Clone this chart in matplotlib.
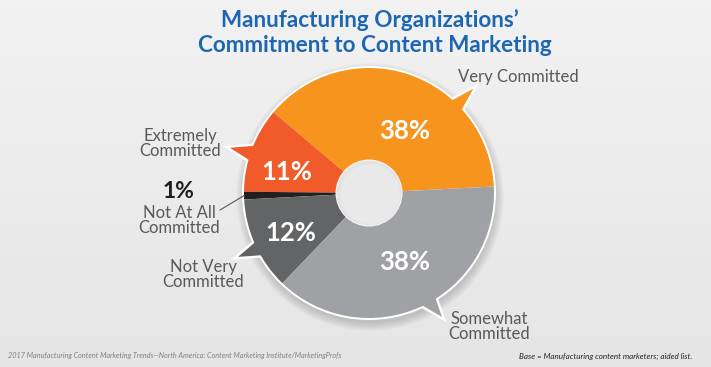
import numpy as np
import matplotlib
matplotlib.use("Agg")
import matplotlib.pyplot as plt
from matplotlib.patches import Circle, Polygon
from matplotlib.colors import LinearSegmentedColormap

# ---------------- data ----------------
categories = ["Very Committed", "Extremely\nCommitted", "Not At All\nCommitted",
              "Not Very\nCommitted", "Somewhat\nCommitted"]
values = [38, 11, 1, 12, 38]
pct_labels = ["38%", "11%", "1%", "12%", "38%"]
colors = ["#F7941D", "#F15A29", "#231F20", "#636466", "#A0A1A4"]

title_lines = ["Manufacturing Organizations\u2019", "Commitment to Content Marketing"]
source_note = ("2017 Manufacturing Content Marketing Trends\u2014North America: "
               "Content Marketing Institute/MarketingProfs")
base_note = "Base = Manufacturing content marketers; aided list."

# ---------------- style / layout ----------------
W, H = 711, 367
FONT = ["Lato", "DejaVu Sans"]
TITLE_COLOR = "#1d66b1"
LABEL_COLOR = "#58595B"

fig = plt.figure(figsize=(7.11, 3.67), dpi=100)
ax = fig.add_axes([0, 0, 1, 1])


def Y(y):
    return H - y


# background gradient
grad = np.linspace(0, 1, 256).reshape(-1, 1)
bg = LinearSegmentedColormap.from_list("bg", ["#f2f2f2", "#e5e5e5"])
ax.imshow(grad, extent=[0, W, 0, H], cmap=bg, aspect="auto", origin="upper", zorder=0)

cx, cy, R = 369, Y(193), 125
hole_r = 32.5

wedges, _ = ax.pie(values, colors=colors, startangle=3, counterclock=True,
                   radius=R, center=(cx, cy), frame=True,
                   wedgeprops=dict(linewidth=0))
for w in wedges:
    w.set_zorder(3)

ax.set_xlim(0, W)
ax.set_ylim(0, H)
ax.set_aspect("equal")
ax.axis("off")

# soft shadow
for k in range(7):
    ax.add_patch(Circle((cx + 1, cy - 4), R + 1 + k * 1.3, facecolor="black",
                        edgecolor="none", alpha=0.025, zorder=1.5))

# white rim
ax.add_patch(Circle((cx, cy), R + 2, facecolor="white", edgecolor="none", zorder=2))

# speech-bubble tails: (base angle 1, base angle 2, tip angle, tip radius factor)
tails = {0: (50.3, 39.8, 45.0, 1.18),
         1: (154.6, 166.5, 162.0, 1.17),
         3: (201.5, 213.0, 206.0, 1.166),
         4: (-56.3, -69.0, -59.5, 1.15)}


def pol(ang, r):
    a = np.deg2rad(ang)
    return (cx + r * np.cos(a), cy + r * np.sin(a))


for i, (a1, a2, at, rt) in tails.items():
    pts = [pol(a1, 0.9 * R), pol(at, rt * R), pol(a2, 0.9 * R)]
    ax.add_patch(Polygon(pts, closed=True, facecolor="white", edgecolor="white",
                         linewidth=3.5, joinstyle="miter", zorder=2))
    ax.add_patch(Polygon(pts, closed=True, facecolor=wedges[i].get_facecolor(),
                         edgecolor="none", zorder=3.5))

# hole
ax.add_patch(Circle((cx, cy), hole_r + 1, facecolor="#f6f6f6", edgecolor="none", zorder=4))
ax.add_patch(Circle((cx, cy), hole_r, facecolor="#e4e4e4", edgecolor="none", zorder=4.1))
ax.add_patch(Circle((cx + 1, cy - 1), hole_r - 2.5, facecolor="#e9e9e9", edgecolor="none", zorder=4.2))

# percent labels inside wedges: (angle, radius factor)
pct_pos = {0: (60.0, 0.57), 1: (165.6, 0.68), 3: (207.0, 0.70), 4: (-62.5, 0.62)}
for i, (ang, rf) in pct_pos.items():
    x, y = pol(ang, rf * R)
    ax.text(x, y, pct_labels[i], color="white", fontsize=18.5, fontweight="bold",
            family=FONT, ha="center", va="center", zorder=6)

# outer category labels: (x, baseline of last line, ha)
lab_pos = {0: (458, 82, "left"), 1: (180, 156, "center"), 2: (179, 233, "center"),
           3: (203, 287, "center"), 4: (448, 339, "left")}
for i, (x, yb, ha) in lab_pos.items():
    ax.text(x, Y(yb), categories[i], color=LABEL_COLOR, fontsize=12, family=FONT,
            ha=ha, va="baseline", multialignment="center", linespacing=0.95, zorder=6)

# "1%" outside label and leader line
ax.text(178, Y(198), pct_labels[2], color="#231F20", fontsize=16.5, fontweight="bold",
        family=FONT, ha="center", va="baseline", zorder=6)
mid2 = 0.5 * (wedges[2].theta1 + wedges[2].theta2)
ex, ey = pol(mid2, R)
ax.plot([220, ex], [Y(210), ey], color="#58595B", linewidth=0.8, zorder=6)

# title
ax.text(370, Y(27), title_lines[0], color=TITLE_COLOR, fontsize=16.2, fontweight="bold",
        family=FONT, ha="center", va="baseline", zorder=6)
ax.text(374.5, Y(52), title_lines[1], color=TITLE_COLOR, fontsize=16.2, fontweight="bold",
        family=FONT, ha="center", va="baseline", zorder=6)

# footer notes
ax.text(8, Y(358), source_note, color="#808080", fontsize=5.2, style="italic",
        family=FONT, ha="left", va="baseline", zorder=6)
ax.text(692, Y(359), base_note, color="#231F20", fontsize=5.8, style="italic",
        family=FONT, ha="right", va="baseline", zorder=6)

fig.savefig("out.png", dpi=100)
